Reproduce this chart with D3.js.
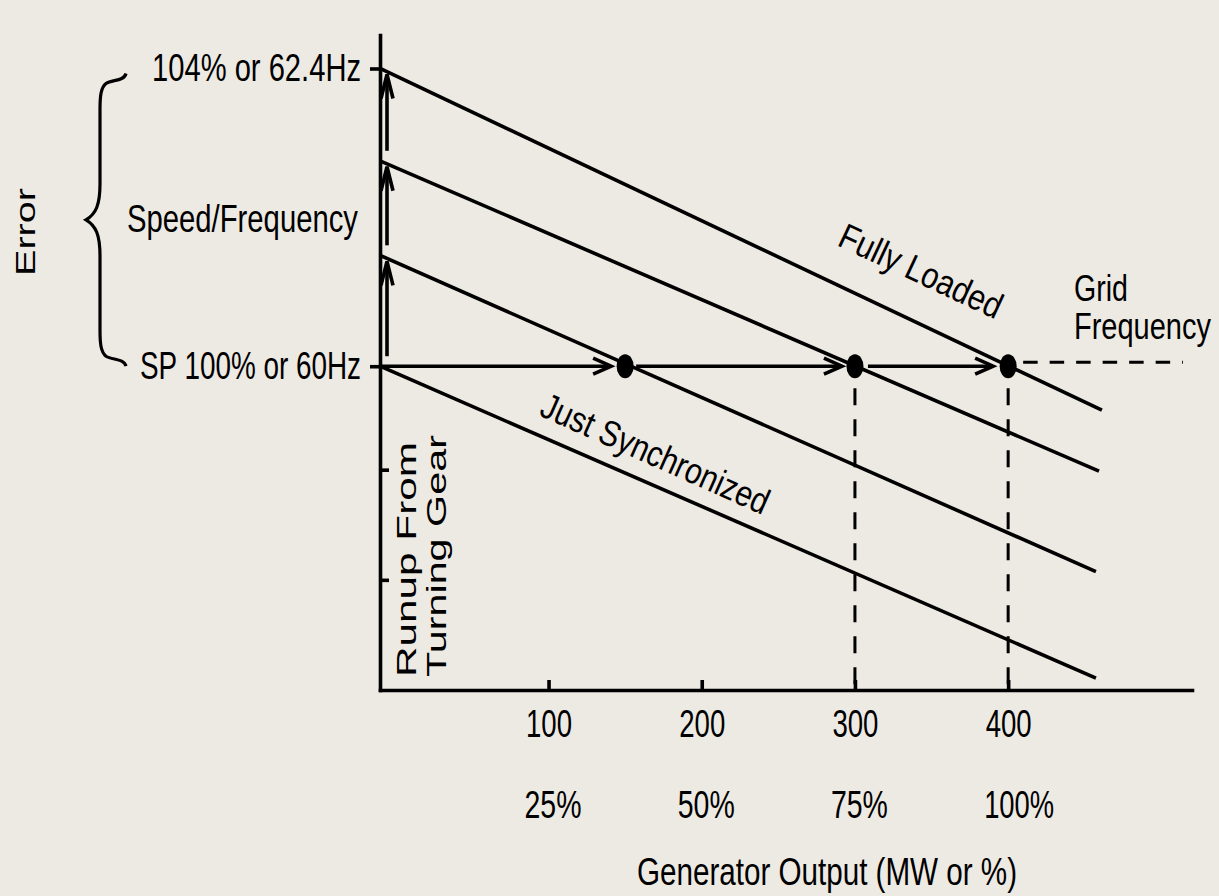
<!DOCTYPE html>
<html>
<head>
<meta charset="utf-8">
<script src="https://cdn.jsdelivr.net/npm/d3@7"></script>
<style>
  html, body { margin: 0; padding: 0; background: #ede9e3; }
  svg { display: block; }
</style>
</head>
<body>
<script>
// ---------------- data ----------------
const mwTicks = [100, 200, 300, 400];
const pctTickLabels = ["25%", "50%", "75%", "100%"];
const speedTicks = [100, 104];
const speedTickLabels = ["SP 100% or 60Hz", "104% or 62.4Hz"];
const runupTicks = [97.13, 98.61];
// four droop lines: speed (%) at the axis and at their right end
const lineStartPct = [100, 101.49, 102.76, 104];
const lineEndMW = [457.3, 457.3, 459.3, 461.2];
const lineEndPct = [95.81, 97.24, 98.59, 99.41];
const syncPointsMW = [150, 300, 400];
const gridFreqPct = 100;
const dashedDropMW = [300, 400];

// ---------------- setup ----------------
const W = 1219, H = 896;
const NARROW = "'Liberation Sans Narrow','Arial Narrow','Liberation Sans',Arial,sans-serif";
const REG = "'Liberation Sans',Arial,sans-serif";
const svg = d3.select("body").append("svg").attr("width", W).attr("height", H);
svg.append("rect").attr("width", W).attr("height", H).attr("fill", "#ede9e3");

const x = d3.scaleLinear().domain([-10, 520]).range([380, 1192]);
const y = d3.scaleLinear().domain([95.65, 104.45]).range([690, 35]);
const x0 = x.domain()[0];

function fit(sel, w) { sel.attr("textLength", w).attr("lengthAdjust", "spacingAndGlyphs"); }

// ---------------- droop lines ----------------
const lines = lineStartPct.map((s, i) => ({ s, e: lineEndPct[i], mw: lineEndMW[i] }));
svg.append("g").selectAll("line").data(lines).join("line")
  .attr("x1", x(x0)).attr("y1", d => y(d.s))
  .attr("x2", d => x(d.mw)).attr("y2", d => y(d.e))
  .attr("stroke", "#000").attr("stroke-width", 3.6);

// ---------------- axes ----------------
const gy = svg.append("g").attr("transform", `translate(${x(x0)},0)`)
  .call(d3.axisLeft(y).tickValues(speedTicks).tickFormat((d, i) => speedTickLabels[i])
    .tickSize(10).tickPadding(9).tickSizeOuter(0));
gy.attr("font-size", null).attr("font-family", null);
gy.select(".domain").attr("stroke", "#000").attr("stroke-width", 3.6).attr("stroke-linecap", "square");
gy.selectAll(".tick line").attr("stroke", "#000").attr("stroke-width", 3.6);
const yLabW = { "SP 100% or 60Hz": 221, "104% or 62.4Hz": 209 };
gy.selectAll(".tick text").attr("fill", "#000").style("font-family", NARROW).style("font-size", "38px")
  .attr("dy", "0.32em")
  .each(function(d, i) { fit(d3.select(this), yLabW[speedTickLabels[i]]); });

const gy2 = svg.append("g").attr("transform", `translate(${x(x0)},0)`)
  .call(d3.axisRight(y).tickValues(runupTicks).tickFormat("").tickSize(9).tickSizeOuter(0));
gy2.select(".domain").remove();
gy2.selectAll(".tick line").attr("stroke", "#000").attr("stroke-width", 3.6);

const gx = svg.append("g").attr("transform", `translate(0,${y.range()[0]})`)
  .call(d3.axisBottom(x).tickValues(mwTicks).tickSize(-10).tickPadding(20).tickSizeOuter(0));
gx.attr("font-size", null).attr("font-family", null);
gx.select(".domain").attr("stroke", "#000").attr("stroke-width", 3.6).attr("stroke-linecap", "square");
gx.selectAll(".tick line").attr("stroke", "#000").attr("stroke-width", 3.6);
gx.selectAll(".tick text").attr("fill", "#000").style("font-family", NARROW).style("font-size", "38px")
  .each(function() { fit(d3.select(this), 46); });

// percentage row
svg.append("g").selectAll("text").data(mwTicks).join("text")
  .attr("x", d => x(d) - 24).attr("y", 818)
  .style("font-family", NARROW).style("font-size", "38px").attr("fill", "#000")
  .text((d, i) => pctTickLabels[i])
  .each(function(d, i) { fit(d3.select(this), pctTickLabels[i].length > 3 ? 70 : 57); });

svg.append("text").attr("x", 827).attr("y", 885).attr("text-anchor", "middle")
  .style("font-family", NARROW).style("font-size", "38px").attr("fill", "#000")
  .text("Generator Output (MW or %)").call(fit, 380);

// ---------------- arrows ----------------
const ARW = 3.6;
const ax = x(x0) + 7;
const arrowG = svg.append("g").attr("stroke", "#000").attr("stroke-width", ARW).attr("fill", "none");
d3.range(lineStartPct.length - 1).forEach(i => {
  const bottom = y(lineStartPct[i]) - 10;
  const tip = y(lineStartPct[i + 1]) + 6;
  arrowG.append("line").attr("x1", ax).attr("x2", ax).attr("y1", bottom).attr("y2", tip + 2);
  arrowG.append("polyline").attr("points", `${ax - 6},${tip + 24} ${ax},${tip} ${ax + 6},${tip + 24}`);
});
const yg = y(gridFreqPct);
const hSegs = [
  [x(x0), x(syncPointsMW[0]) - 14],
  [x(syncPointsMW[0]) + 11, x(syncPointsMW[1]) - 13],
  [x(syncPointsMW[1]) + 13, x(syncPointsMW[2]) - 15]
];
hSegs.forEach(([a, b]) => {
  arrowG.append("line").attr("x1", a).attr("x2", b - 1).attr("y1", yg).attr("y2", yg);
  arrowG.append("polyline").attr("points", `${b - 18},${yg - 8} ${b},${yg} ${b - 18},${yg + 8}`);
});

// dashed lines
svg.append("g").selectAll("line").data(dashedDropMW).join("line")
  .attr("x1", d => x(d)).attr("x2", d => x(d))
  .attr("y1", yg + 22).attr("y2", y.range()[0])
  .attr("stroke", "#000").attr("stroke-width", 3).attr("stroke-dasharray", "17,14");
svg.append("line")
  .attr("x1", x(syncPointsMW[2]) + 15).attr("x2", 1183)
  .attr("y1", yg - 4).attr("y2", yg - 4)
  .attr("stroke", "#000").attr("stroke-width", 3).attr("stroke-dasharray", "14.5,12");

// dots
svg.append("g").selectAll("ellipse").data(syncPointsMW).join("ellipse")
  .attr("cx", d => x(d)).attr("cy", yg).attr("rx", 8.5).attr("ry", 12).attr("fill", "#000");

// ---------------- brace ----------------
const bt = y(104) + 5, bb = y(100), bm = (bt + bb) / 2;
const p = d3.path();
p.moveTo(126, bt);
p.bezierCurveTo(124, bt + 8, 112, bt + 6, 106, bt + 10);
p.bezierCurveTo(101, bt + 14, 100, bt + 22, 100, bt + 36);
p.lineTo(100, bm - 36);
p.bezierCurveTo(100, bm - 15, 96, bm - 6, 86, bm);
p.bezierCurveTo(96, bm + 6, 100, bm + 15, 100, bm + 36);
p.lineTo(100, bb - 36);
p.bezierCurveTo(100, bb - 22, 101, bb - 14, 106, bb - 10);
p.bezierCurveTo(112, bb - 6, 124, bb - 8, 126, bb);
svg.append("path").attr("d", p.toString()).attr("fill", "none").attr("stroke", "#000").attr("stroke-width", 3.2);

// ---------------- labels (horizontally scaled to the measured width) ----------------
function label(txt, xx, yy, opts) {
  const t = svg.append("text").attr("fill", "#000")
    .style("font-family", opts.font || NARROW).style("font-size", (opts.size || 38) + "px")
    .attr("text-anchor", opts.anchor || "start")
    .text(txt);
  const natural = t.node().getComputedTextLength();
  const sx = opts.w ? opts.w / natural : 1;
  t.attr("transform", `translate(${xx},${yy}) rotate(${opts.rot || 0}) scale(${sx},1)`);
  return t;
}
label("Speed/Frequency", 127, 232, { w: 231 });
label("Error", 35, 232, { font: REG, size: 28, rot: -90, anchor: "middle", w: 88 });
label("Runup From", 416, 677, { font: REG, size: 27, rot: -90, w: 235 });
label("Turning Gear", 446, 677, { font: REG, size: 27, rot: -90, w: 242 });
label("Fully Loaded", 836, 245, { size: 36, rot: 25, w: 176 });
label("Just Synchronized", 538, 415, { size: 36, rot: 24, w: 246 });
label("Grid", 1074, 301, { size: 37, w: 54 });
label("Frequency", 1074, 339, { size: 37, w: 137 });
</script>
</body>
</html>
